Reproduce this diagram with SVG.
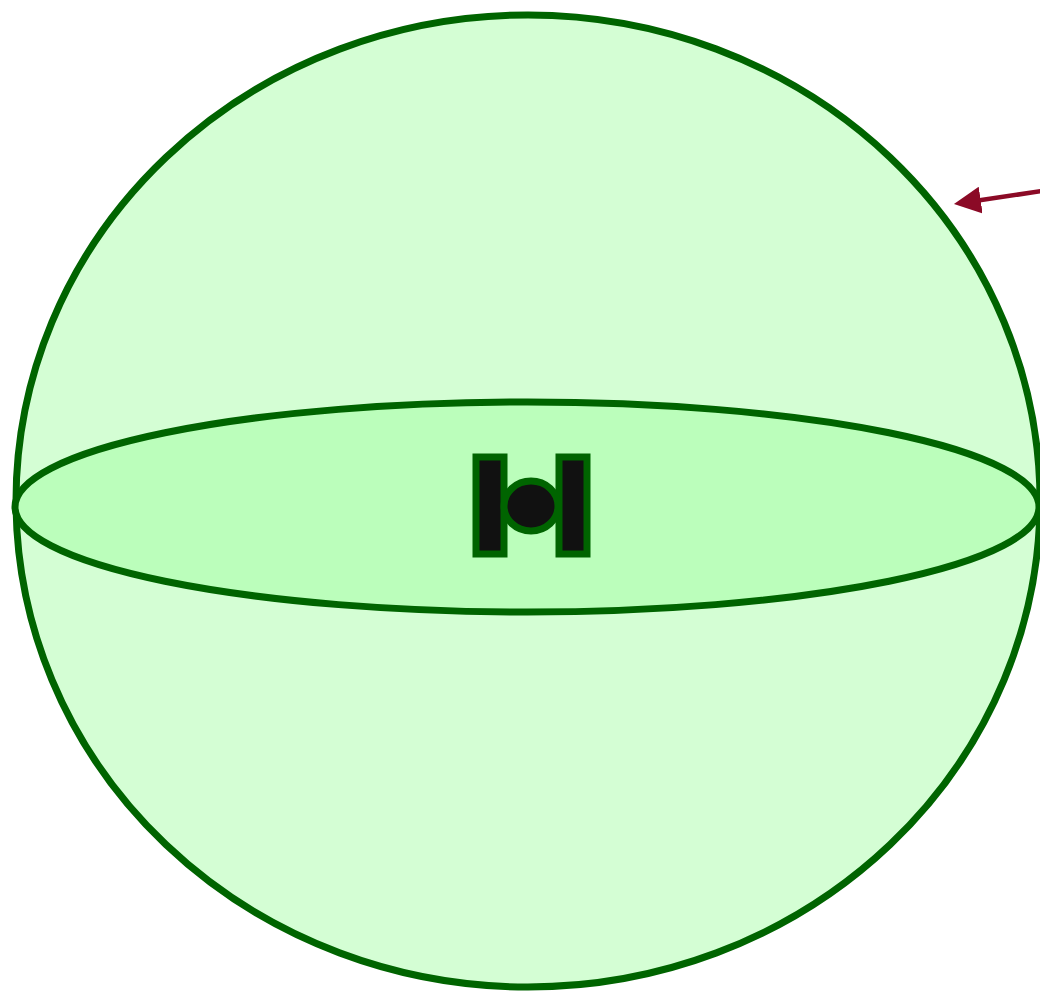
<svg xmlns="http://www.w3.org/2000/svg" width="1040" height="994" viewBox="0 0 1040 994">
<style>
.ln{stroke:#006400;stroke-width:7}
.sym{fill:#111111;stroke:#006400;stroke-width:7}
</style>
<defs>
<marker id="ah" viewBox="0 0 10 10" refX="1" refY="5" markerWidth="6" markerHeight="6" orient="auto-start-reverse" markerUnits="strokeWidth">
<path d="M0,0 L10,5 L0,10 z" fill="#8b0a26"/>
</marker>
</defs>
<rect width="1040" height="994" fill="#ffffff"/>
<g id="sphere">
<ellipse class="ln" cx="528" cy="501" rx="512" ry="486" fill="#d4fed4"/>
</g>
<g id="equator">
<ellipse class="ln" cx="527" cy="507" rx="512" ry="105" fill="#bbfebb"/>
</g>
<g id="center">
<rect class="sym" x="476" y="457" width="28" height="97"/>
<rect class="sym" x="559" y="457" width="28" height="97"/>
<ellipse class="sym" cx="531" cy="506" rx="27" ry="25"/>
</g>
<g id="connectors">
<line x1="1042" y1="191" x2="978" y2="200.5" stroke="#8b0a26" stroke-width="4.5" marker-end="url(#ah)"/>
</g>
</svg>
